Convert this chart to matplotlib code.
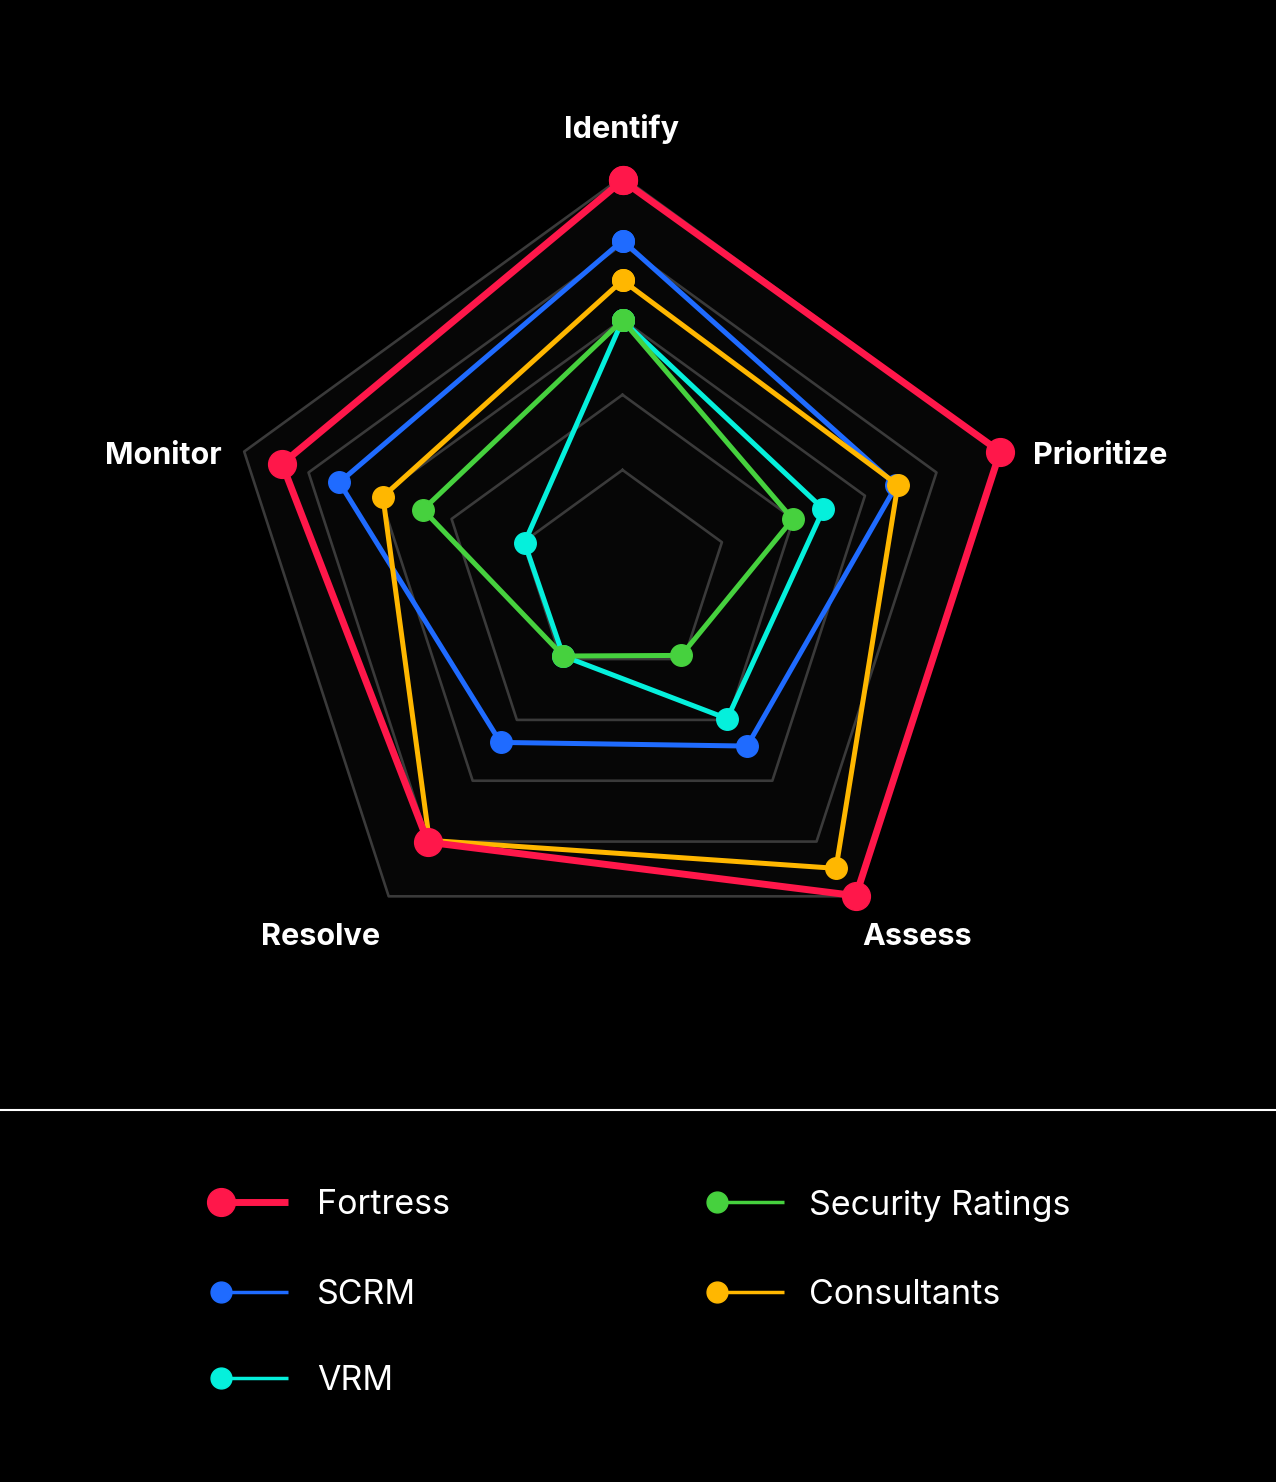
import numpy as np
import matplotlib.pyplot as plt

plt.rcParams['font.family'] = ['Inter', 'DejaVu Sans']

# axes (clockwise from top)
categories = ['Identify', 'Prioritize', 'Assess', 'Resolve', 'Monitor']

# series values
fortress = [4.85, 4.89, 4.89, 4.01, 4.37]
scrm = [4.05, 3.44, 2.43, 2.37, 3.57]
vrm = [2.99, 2.42, 1.98, 0.95, 0.98]
security_ratings = [2.99, 1.99, 0.94, 0.95, 2.40]
consultants = [3.52, 3.46, 4.44, 3.98, 2.96]

series_names = ['Fortress', 'SCRM', 'VRM', 'Security Ratings', 'Consultants']
series_values = [fortress, scrm, vrm, security_ratings, consultants]
series_colors = ['#FF174A', '#1F6BFF', '#05F0DC', '#46D13E', '#FFB700']

grid_levels = [1, 2, 3, 4, 4.9]
r_min, r_max = -0.39, 4.9

W, H = 1276, 1482
fig = plt.figure(figsize=(W / 100, H / 100), dpi=100, facecolor='black')

# background axes in pixel coords for separator + legend
bg = fig.add_axes([0, 0, 1, 1], zorder=0)
bg.set_xlim(0, W)
bg.set_ylim(H, 0)
bg.axis('off')
bg.set_facecolor('none')

# polar axes: centre (622.5, 574.5) px, outer radius ~398 px
cx, cy, R = 622.5, 574.5, 397.8
ax = fig.add_axes([(cx - R) / W, (H - cy - R) / H, 2 * R / W, 2 * R / H],
                  projection='polar', zorder=1)
ax.set_facecolor('none')
ax.set_theta_offset(np.pi / 2)
ax.set_theta_direction(-1)
ax.set_ylim(r_min, r_max)
ax.grid(False)
ax.set_xticks([])
ax.set_yticks([])
ax.spines['polar'].set_visible(False)

angles = np.linspace(0, 2 * np.pi, len(categories), endpoint=False)
closed = np.append(angles, angles[0])

# grid pentagons
ax.fill(closed, [grid_levels[-1]] * len(closed), color='#060606', zorder=1)
for lvl in grid_levels:
    ax.plot(closed, [lvl] * len(closed), color='#3a3a3a', lw=1.9, zorder=2,
            clip_on=False)

# series, drawn bottom to top
draw_order = ['VRM', 'Security Ratings', 'SCRM', 'Consultants', 'Fortress']
for z, name in enumerate(draw_order):
    i = series_names.index(name)
    vals = series_values[i] + series_values[i][:1]
    big = name == 'Fortress'
    ax.plot(closed, vals, color=series_colors[i], lw=5.0 if big else 3.6,
            marker='o', ms=20 if big else 15.5, solid_joinstyle='miter',
            zorder=3 + z, clip_on=False)

# category labels
label_offsets = [(-1, 38.7, 'center'), (32, -12.9, 'left'), (5.7, -48.7, 'left'),
                 (-8.7, -48.7, 'right'), (-23, -12.9, 'right')]
for ang, cat, (dx, dy, ha) in zip(angles, categories, label_offsets):
    ax.annotate(cat, xy=(ang, grid_levels[-1]), xytext=(dx, dy),
                textcoords='offset pixels', ha=ha, va='baseline',
                color='white', fontsize=22, fontweight='bold',
                annotation_clip=False)

# separator
bg.plot([0, W], [1110, 1110], color='white', lw=1.5)

# legend
col_x = [221, 717]
text_x = [317, 809]
row_y = [1202, 1292, 1378]
for i, name in enumerate(series_names):
    x0 = col_x[i // 3]
    y0 = row_y[i % 3]
    big = name == 'Fortress'
    bg.plot([x0, x0 + 67], [y0, y0], color=series_colors[i],
            lw=5.0 if big else 2.5, solid_capstyle='butt')
    bg.plot([x0], [y0], marker='o', color=series_colors[i],
            ms=20 if big else 15)
    bg.text(text_x[i // 3], y0 + 12.5, name, color='white', fontsize=24.5,
            ha='left', va='baseline')

fig.savefig('out.png', dpi=100, facecolor='black')
